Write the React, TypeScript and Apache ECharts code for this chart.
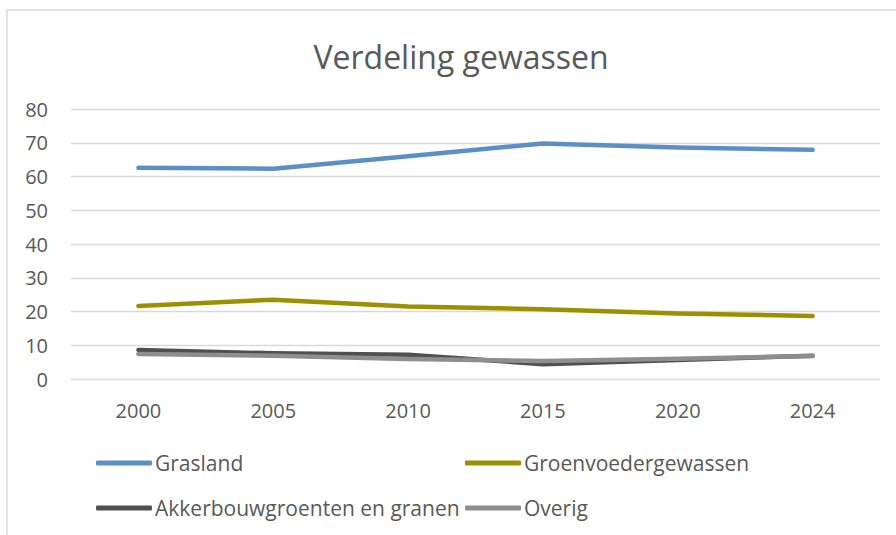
import React, { useEffect, useRef } from "react";
import * as echarts from "echarts";

const years = ["2000", "2005", "2010", "2015", "2020", "2024"];
const grasland = [62.6, 62.3, 66.0, 69.8, 68.6, 67.9];
const groenvoeder = [21.6, 23.5, 21.5, 20.7, 19.4, 18.7];
const akkerbouw = [8.6, 7.6, 7.2, 4.4, 5.6, 6.9];
const overig = [7.4, 6.9, 5.9, 5.3, 6.0, 6.8];

const seriesNames = ["Grasland", "Groenvoedergewassen", "Akkerbouwgroenten en granen", "Overig"];
const seriesColors = ["#5b8fc6", "#9b9000", "#505050", "#8e8e8e"];
const seriesData = [grasland, groenvoeder, akkerbouw, overig];

const FONT = "'Open Sans', 'Noto Sans', sans-serif";
const TEXT = "#595959";

export default function App() {
  const ref = useRef<HTMLDivElement>(null);
  useEffect(() => {
    if (!ref.current) return;
    const chart = echarts.init(ref.current, undefined, { renderer: "svg" });
    const legendPos = [
      { left: 96, top: 452 },
      { left: 465, top: 452 },
      { left: 96, top: 497 },
      { left: 465, top: 497 },
    ];
    chart.setOption({
      animation: false,
      backgroundColor: "#ffffff",
      textStyle: { fontFamily: FONT },
      title: {
        text: "Verdeling gewassen",
        left: 456,
        textAlign: "center",
        top: 35,
        textStyle: { fontFamily: FONT, fontSize: 32, fontWeight: "normal", color: TEXT },
      },
      graphic: [
        {
          type: "rect",
          shape: { x: 7, y: 10, width: 900, height: 540 },
          style: { fill: "none", stroke: "#d9d9d9", lineWidth: 1.5 },
          silent: true,
          z: -1,
        },
      ],
      legend: seriesNames.map((n, i) => ({
        data: [n],
        left: legendPos[i].left,
        top: legendPos[i].top,
        icon: "roundRect",
        itemWidth: 56,
        itemHeight: 5,
        padding: 0,
        selectedMode: false,
        textStyle: {
          fontFamily: FONT,
          fontSize: 21,
          color: TEXT,
          lineHeight: 22,
          padding: [0, 0, 0, -2],
        },
      })),
      grid: { left: 71, right: 16, top: 109, bottom: 156 },
      xAxis: {
        type: "category",
        data: years,
        boundaryGap: true,
        axisLine: { show: true, lineStyle: { color: "#d9d9d9", width: 1 } },
        axisTick: { show: false },
        axisLabel: { color: TEXT, fontSize: 20, fontFamily: FONT, margin: 21 },
      },
      yAxis: {
        type: "value",
        min: 0,
        max: 80,
        interval: 10,
        axisLine: { show: false },
        axisTick: { show: false },
        axisLabel: { color: TEXT, fontSize: 20, fontFamily: FONT, margin: 23 },
        splitLine: { lineStyle: { color: "#d9d9d9", width: 1.3 } },
      },
      series: seriesNames.map((n, i) => ({
        name: n,
        type: "line",
        data: seriesData[i],
        symbol: "none",
        smooth: false,
        color: seriesColors[i],
        lineStyle: { color: seriesColors[i], width: 4.5, cap: "round", join: "round" },
      })),
    });
    return () => chart.dispose();
  }, []);
  return (
    <div
      ref={ref}
      style={{ position: "fixed", left: 0, top: 0, width: 896, height: 535 }}
    />
  );
}
